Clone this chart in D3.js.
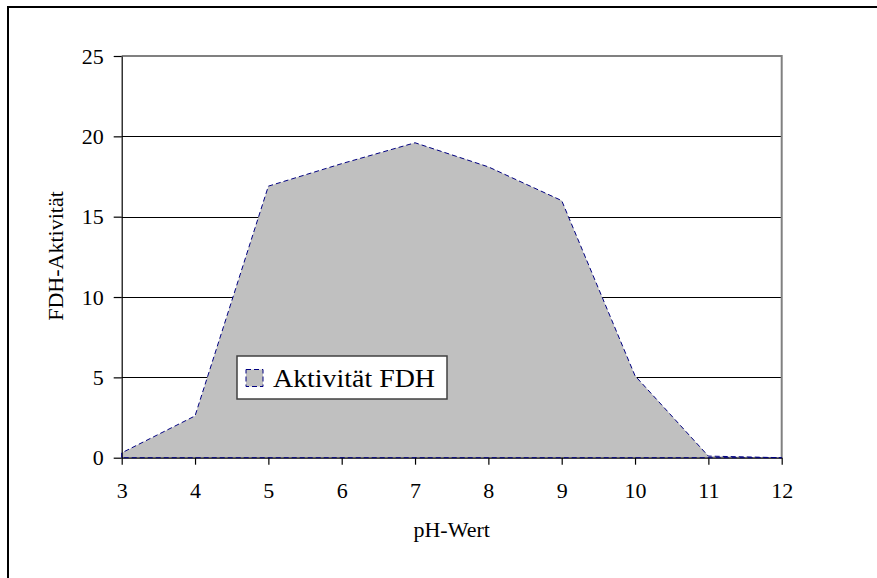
<!DOCTYPE html>
<html>
<head>
<meta charset="utf-8">
<script src="https://cdn.jsdelivr.net/npm/d3@7"></script>
<style>
  html, body { margin: 0; padding: 0; background: #fff; }
  svg { display: block; }
  text { font-family: "Liberation Serif", "Times New Roman", serif; fill: #000; }
</style>
</head>
<body>
<svg id="chart" width="877" height="578"></svg>
<script>
// FDH activity across pH values
const phValues = [3, 4, 5, 6, 7, 8, 9, 10, 11, 12];
const activity = [0.3, 2.6, 16.9, 18.3, 19.6, 18.1, 16.0, 5.1, 0.1, 0.0];
const yTicks = [0, 5, 10, 15, 20, 25];
const xTicks = [3, 4, 5, 6, 7, 8, 9, 10, 11, 12];
const seriesName = "Aktivität FDH";
const xTitle = "pH-Wert";
const yTitle = "FDH-Aktivität";

const svg = d3.select("#chart");
const W = 877, H = 578;

const plot = { left: 121.7, right: 781.7, top: 56, bottom: 457.7 };

const x = d3.scaleLinear().domain([3, 12]).range([plot.left, plot.right]);
const y = d3.scaleLinear().domain([0, 25]).range([plot.bottom, plot.top]);

svg.append("rect").attr("width", W).attr("height", H).attr("fill", "#fff");

// chart frame (extends past the right and bottom edges)
svg.append("rect")
  .attr("x", 8).attr("y", 7)
  .attr("width", 920).attr("height", 620)
  .attr("fill", "none").attr("stroke", "#000").attr("stroke-width", 2);

// horizontal gridlines
svg.append("g")
  .selectAll("line")
  .data(yTicks.filter(t => t > 0 && t < 25))
  .join("line")
  .attr("x1", plot.left).attr("x2", plot.right)
  .attr("y1", d => Math.round(y(d)) + 0.5).attr("y2", d => Math.round(y(d)) + 0.5)
  .attr("stroke", "#000").attr("stroke-width", 1);

// area
const area = d3.area()
  .x((d, i) => x(phValues[i]))
  .y0(y(0))
  .y1(d => y(d));

svg.append("path")
  .datum(activity)
  .attr("d", area)
  .attr("fill", "#c0c0c0")
  .attr("stroke", "none");

// plot border (top and right)
svg.append("path")
  .attr("d", `M${plot.left},${plot.top}H${plot.right}V${plot.bottom}`)
  .attr("fill", "none").attr("stroke", "#808080").attr("stroke-width", 2);

// axes
const yAxis = d3.axisLeft(y).tickValues(yTicks).tickSize(8).tickPadding(10).tickSizeOuter(0);
const gy = svg.append("g")
  .attr("transform", `translate(${plot.left},0)`)
  .call(yAxis);
gy.selectAll("text").attr("font-size", 22).attr("font-family", "Liberation Serif, Times New Roman, serif");

const xAxis = d3.axisBottom(x).tickValues(xTicks).tickSize(7).tickPadding(17.5).tickSizeOuter(0);
const gx = svg.append("g")
  .attr("transform", `translate(0,${plot.bottom})`)
  .call(xAxis);
gx.selectAll("text").attr("font-size", 22).attr("font-family", "Liberation Serif, Times New Roman, serif");

[gx, gy].forEach(g => {
  g.select(".domain").attr("stroke", "#000").attr("stroke-width", 1.2);
  g.selectAll(".tick line").attr("stroke", "#000").attr("stroke-width", 1.2);
});

// series outline (dashed), drawn over the baseline
const outline = phValues.map((p, i) => [x(p), y(activity[i])]);
const outlinePts = [[x(phValues[0]), y(0)], ...outline, [x(phValues[phValues.length - 1]), y(0)]];
svg.append("path")
  .attr("d", d3.line()(outlinePts) + "Z")
  .attr("fill", "none")
  .attr("stroke", "#000080")
  .attr("stroke-width", 1)
  .attr("stroke-dasharray", "5,3");

// axis titles
svg.append("text")
  .attr("x", (plot.left + plot.right) / 2)
  .attr("y", 537)
  .attr("text-anchor", "middle")
  .attr("font-size", 22)
  .text(xTitle);

svg.append("text")
  .attr("transform", `translate(63,256) rotate(-90)`)
  .attr("text-anchor", "middle")
  .attr("font-size", 22)
  .text(yTitle);

// legend
const lg = svg.append("g");
lg.append("rect")
  .attr("x", 237).attr("y", 356)
  .attr("width", 210).attr("height", 43)
  .attr("fill", "#fff").attr("stroke", "#404040").attr("stroke-width", 1.5);
lg.append("rect")
  .attr("x", 246).attr("y", 369.5)
  .attr("width", 17).attr("height", 17)
  .attr("fill", "#c0c0c0")
  .attr("stroke", "#000080").attr("stroke-width", 1)
  .attr("stroke-dasharray", "5,3");
lg.append("text")
  .attr("x", 273).attr("y", 386.5)
  .attr("font-size", 26)
  .attr("textLength", 162)
  .attr("lengthAdjust", "spacingAndGlyphs")
  .text(seriesName);
</script>
</body>
</html>
